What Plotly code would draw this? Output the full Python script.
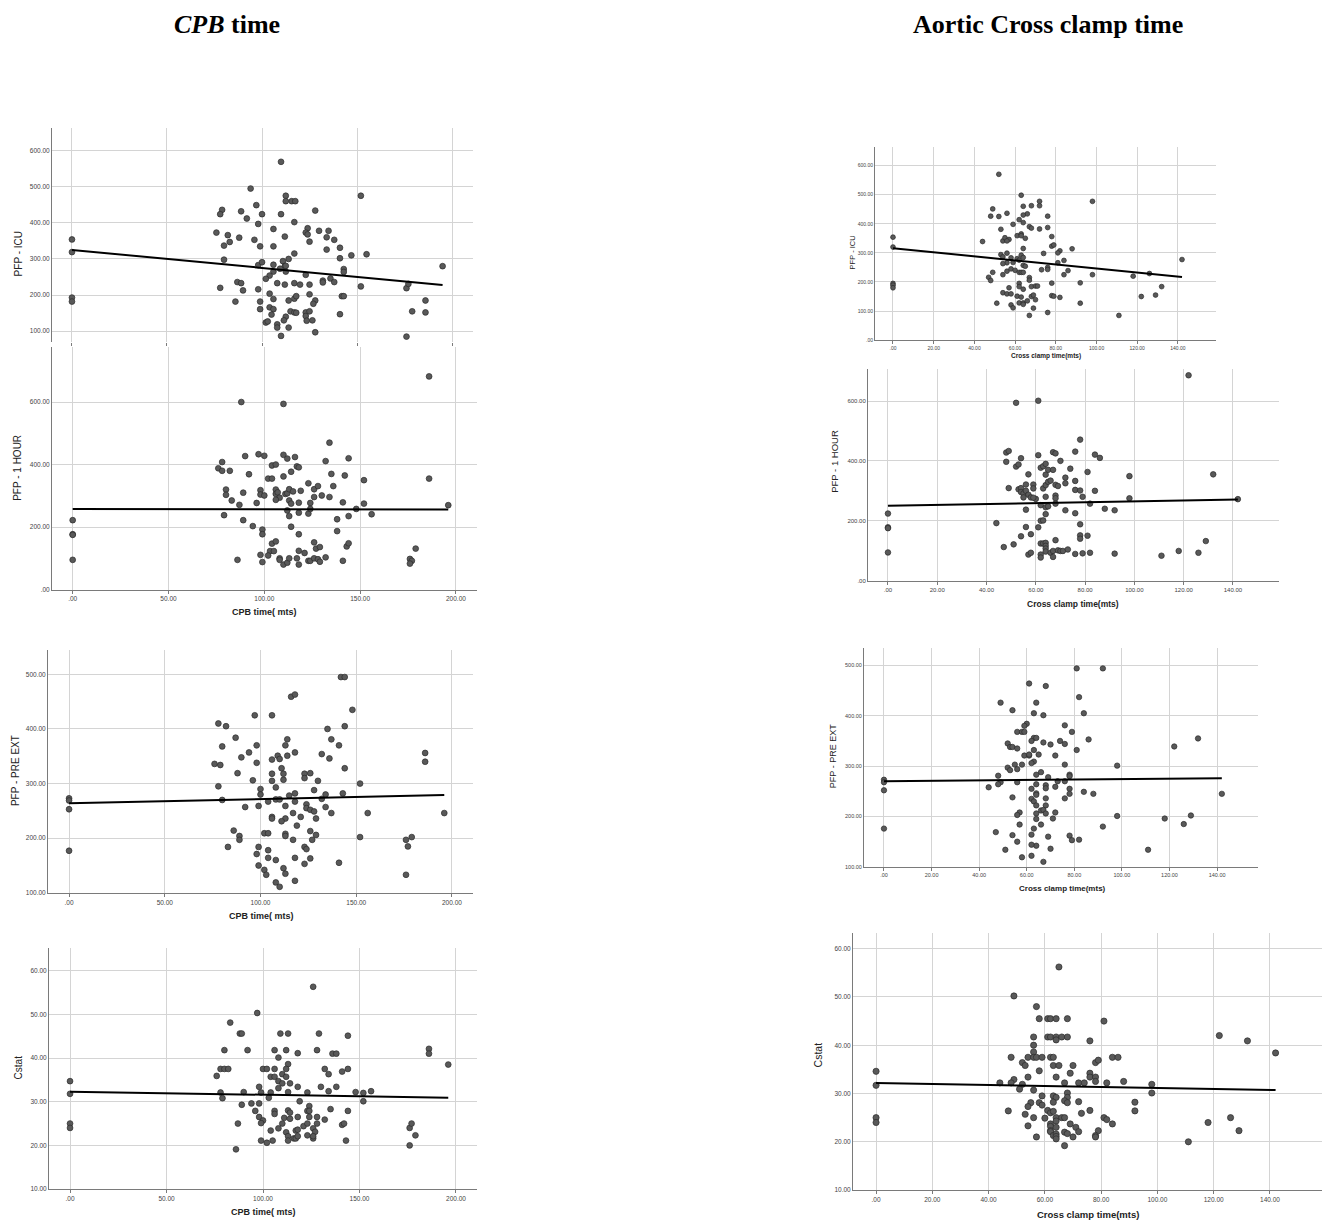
import plotly.graph_objects as go

W, H = 1336, 1226

# ---------------- DATA ----------------
# Left column: CPB time (mts) vs outcomes
cpb_icu_x = [0, 0, 0, 0, 110, 94, 112.5, 112.5, 115.6, 117.5,
             79, 78, 89, 97, 92, 100, 110, 128, 117, 98,
             76, 82, 88, 96, 106, 124, 123, 124, 130, 135,
             134, 138, 112, 80, 83, 99, 106, 125, 134, 141,
             117, 141, 147, 155, 152, 80, 98, 100, 106, 111,
             114, 112, 112.5, 109.5, 106, 112.5, 123, 104, 102, 143,
             143, 136, 132, 132, 138, 125, 120, 117, 112, 108,
             78, 87, 89, 90, 98, 104, 125, 152, 176, 177,
             195, 86, 99, 106, 114, 117, 118, 128, 127, 142,
             143, 99, 104, 106, 115, 117, 118, 123, 123, 125,
             141, 105, 112.5, 111.5, 123.5, 126.5, 102, 103, 108, 108,
             114, 128, 110, 176, 179, 186, 186]
cpb_icu_y = [354, 319, 193, 182, 569, 495, 475, 460, 460, 460,
             436, 424, 432, 449, 412, 424, 424, 434, 402, 397,
             373, 366, 359, 353, 383, 385, 373, 368, 378, 378,
             360, 353, 362, 337, 347, 335, 335, 348, 326, 331,
             315, 302, 310, 313, 475, 298, 283, 291, 284, 294,
             300, 280, 281, 273, 265, 265, 256, 254, 245, 272,
             264, 246, 240, 235, 236, 229, 229, 233, 229, 233,
             220, 236, 233, 213, 216, 204, 202, 224, 219, 231,
             280, 182, 182, 189, 185, 190, 197, 185, 176, 197,
             197, 161, 166, 161, 155, 152, 151, 152, 142, 155,
             147, 146, 140, 130, 129, 130, 124, 127, 119, 110,
             110, 97, 87, 85, 155, 185, 152]

cpb_hour_x = [0, 0, 0, 0, 186, 88, 110, 134, 76, 78,
              78, 82, 90, 97, 100, 110, 112, 116, 117, 118,
              104, 106, 110, 102, 104, 114, 92, 132, 144, 142,
              135, 136, 152, 80, 80, 89, 83, 87, 96, 98,
              98, 100, 106, 106, 107, 108, 106, 111, 112, 113,
              115, 113, 114, 119, 123, 126, 128, 126, 130, 134,
              118, 124, 141, 152, 148, 156, 112, 113, 118, 123,
              124, 144, 138, 79, 89, 94, 99, 99, 114, 118,
              138, 104, 106, 103, 105, 102, 98, 99, 108, 108,
              110, 112, 113, 117, 118, 118, 121, 123, 124, 126,
              127, 129, 126, 128, 129, 132, 141, 143, 144, 86,
              176, 177, 176, 179, 186, 196]
cpb_hour_y = [222, 177, 175, 95, 682, 600, 594, 470, 388, 408,
              380, 380, 427, 433, 428, 431, 419, 424, 394, 391,
              397, 400, 362, 355, 355, 377, 369, 411, 420, 365,
              370, 331, 350, 320, 303, 310, 285, 271, 277, 318,
              304, 301, 320, 306, 311, 294, 287, 306, 308, 321,
              314, 285, 275, 316, 340, 321, 331, 296, 301, 296,
              278, 277, 279, 275, 258, 241, 253, 235, 246, 243,
              258, 235, 225, 238, 222, 203, 192, 177, 201, 177,
              187, 147, 154, 123, 123, 109, 111, 88, 100, 95,
              80, 86, 100, 100, 124, 80, 117, 92, 92, 151,
              131, 136, 100, 97, 89, 103, 92, 138, 148, 95,
              98, 92, 83, 131, 355, 270]

cpb_pre_x = [0, 0, 0, 0, 142, 144, 116, 118, 148, 97,
             106, 78, 82, 135, 144, 87, 114, 137, 80, 98,
             113, 141, 94, 118, 90, 109, 114, 110, 106, 132,
             136, 76, 79, 98, 111, 144, 88, 106, 112, 123,
             126, 96, 106, 112, 123, 130, 78, 100, 152, 108,
             128, 100, 115, 118, 134, 143, 132, 80, 108, 110,
             104, 118, 99, 92, 113, 124, 124, 126, 128, 134,
             137, 156, 196, 106, 106, 113, 111, 117, 121, 129,
             119, 86, 89, 89, 102, 104, 113, 113, 117, 126,
             129, 127, 152, 83, 99, 123, 124, 176, 179, 177,
             186, 186, 104, 98, 104, 108, 118, 126, 99, 102,
             103, 112, 113, 123, 141, 176, 108, 110, 118]
cpb_pre_y = [273, 269, 253, 177, 495, 495, 459, 463, 435, 425,
             425, 410, 405, 400, 405, 384, 381, 381, 368, 370,
             370, 370, 357, 357, 348, 351, 351, 345, 344, 354,
             346, 336, 334, 338, 328, 328, 319, 318, 318, 318,
             319, 306, 305, 307, 310, 305, 295, 290, 300, 293,
             288, 280, 278, 282, 280, 282, 272, 270, 271, 271,
             267, 267, 259, 257, 259, 262, 255, 252, 249, 257,
             246, 246, 246, 239, 236, 236, 231, 246, 239, 236,
             223, 214, 204, 197, 209, 209, 208, 204, 197, 213,
             206, 197, 202, 184, 184, 184, 180, 197, 202, 185,
             356, 340, 178, 171, 164, 160, 164, 163, 150, 142,
             133, 145, 135, 153, 155, 133, 119, 111, 122]

cpb_cstat_x = [0, 0, 0, 0, 126, 97, 83, 88, 89, 109,
               113, 129, 144, 80, 92, 106, 112, 128, 118, 136,
               138, 186, 186, 108, 113, 196, 76, 78, 80, 82,
               100, 102, 106, 112, 132, 144, 110, 112, 104, 106,
               134, 141, 108, 110, 114, 98, 108, 118, 130, 138,
               134, 156, 78, 90, 99, 104, 113, 123, 148, 152,
               103, 79, 119, 152, 89, 94, 98, 124, 96, 106,
               106, 113, 114, 123, 124, 135, 144, 98, 111, 114,
               118, 124, 128, 132, 100, 99, 87, 110, 121, 123,
               128, 141, 142, 108, 126, 104, 112, 117, 127, 118,
               113, 116, 117, 118, 123, 126, 126, 99, 105, 113,
               102, 143, 86, 176, 177, 179, 176]
cpb_cstat_y = [34.7, 31.8, 25.0, 24.0, 56.3, 50.3, 48.1, 45.6, 45.6, 45.6,
               45.6, 45.6, 45.1, 41.8, 41.8, 41.8, 41.8, 41.8, 41.1, 41.0,
               41.0, 42.1, 41.0, 40.1, 38.6, 38.5, 35.9, 37.5, 37.5, 37.5,
               37.5, 37.5, 37.5, 37.5, 37.5, 37.5, 36.3, 35.7, 35.7, 35.7,
               36.3, 36.9, 34.7, 34.2, 34.2, 33.4, 33.1, 33.4, 33.4, 33.4,
               32.4, 32.4, 32.1, 32.2, 32.1, 32.1, 32.2, 32.1, 32.2, 32.0,
               30.9, 30.8, 30.1, 30.1, 29.3, 29.6, 29.6, 29.0, 27.9, 27.9,
               27.2, 28.0, 27.5, 27.9, 27.9, 28.3, 27.9, 26.5, 26.3, 26.1,
               26.5, 26.5, 26.5, 25.9, 25.7, 25.1, 25.0, 25.0, 24.4, 25.0,
               25.0, 24.7, 25.0, 23.9, 23.9, 23.4, 23.0, 23.4, 23.1, 23.6,
               22.1, 21.6, 21.6, 22.1, 22.3, 21.6, 22.1, 21.1, 21.1, 21.1,
               20.6, 21.1, 19.1, 24.0, 25.0, 22.3, 20.0]

# Right column: Cross clamp time (mts) vs outcomes
acc_icu_x = [0, 0, 0, 0, 0, 52, 63, 72, 72, 98,
             49, 48, 52, 56, 66, 64, 64, 68, 76, 62,
             64, 59, 53, 67, 68, 72, 76, 44, 54, 55,
             57, 56, 61, 63, 63, 65, 64, 78, 78, 79,
             88, 53, 54, 58, 56, 61, 62, 63, 64, 74,
             82, 81, 56, 54, 59, 64, 65, 81, 84, 76,
             76, 73, 86, 98, 47, 48, 49, 54, 56, 58,
             60, 62, 63, 64, 67, 67, 78, 62, 62, 64,
             57, 68, 70, 71, 84, 92, 54, 56, 58, 61,
             63, 68, 69, 78, 79, 82, 51, 58, 59, 62,
             64, 64, 66, 70, 69, 67, 76, 92, 111, 118,
             122, 126, 129, 132, 142]
acc_icu_y = [354, 320, 195, 189, 180, 570, 498, 477, 462, 477,
             451, 426, 425, 436, 434, 430, 460, 462, 426, 414,
             404, 398, 381, 390, 385, 382, 387, 339, 341, 352,
             346, 341, 359, 365, 359, 350, 315, 356, 323, 327,
             314, 294, 286, 283, 299, 280, 275, 292, 284, 298,
             307, 300, 266, 263, 267, 257, 254, 266, 274, 250,
             243, 242, 239, 225, 216, 205, 233, 225, 237, 245,
             240, 233, 233, 233, 215, 206, 196, 195, 184, 175,
             180, 184, 186, 186, 225, 197, 163, 159, 159, 151,
             148, 150, 155, 153, 151, 147, 127, 121, 111, 128,
             128, 123, 135, 139, 110, 85, 95, 127, 85, 220,
             150, 229, 155, 184, 277]

acc_hour_x = [0, 0, 0, 0, 122, 52, 61, 78, 48, 49,
              54, 61, 67, 68, 76, 84, 86, 48, 52, 53,
              70, 65, 62, 63, 64, 74, 64, 57, 67, 81,
              98, 132, 49, 53, 54, 56, 59, 59, 63, 64,
              65, 66, 68, 69, 72, 72, 76, 76, 78, 84,
              54, 55, 56, 57, 58, 55, 60, 59, 62, 64,
              65, 68, 68, 68, 64, 79, 82, 98, 88, 92,
              72, 76, 64, 56, 142, 44, 62, 63, 61, 56,
              58, 54, 51, 47, 62, 63, 64, 68, 64, 64,
              78, 78, 78, 81, 57, 58, 62, 62, 64, 66,
              67, 67, 69, 70, 71, 73, 76, 79, 82, 92,
              111, 118, 126, 129]
acc_hour_y = [224, 178, 175, 94, 686, 594, 601, 471, 428, 433,
              409, 419, 429, 425, 431, 421, 410, 397, 381, 388,
              400, 370, 377, 382, 390, 374, 354, 355, 370, 363,
              349, 355, 309, 305, 309, 321, 321, 308, 308, 319,
              330, 334, 320, 316, 344, 325, 333, 303, 301, 300,
              296, 291, 300, 287, 278, 278, 273, 277, 252, 245,
              248, 284, 275, 257, 280, 280, 257, 275, 240, 235,
              235, 225, 222, 237, 272, 192, 200, 201, 178, 179,
              155, 148, 121, 112, 124, 124, 126, 135, 116, 107,
              188, 151, 140, 150, 87, 93, 87, 77, 97, 93,
              99, 79, 101, 99, 99, 104, 89, 91, 93, 90,
              83, 99, 93, 132]

acc_pre_x = [0, 0, 0, 0, 81, 92, 61, 68, 49, 64,
             82, 54, 63, 67, 84, 60, 59, 56, 58, 59,
             76, 79, 63, 64, 62, 67, 70, 74, 76, 86,
             52, 53, 54, 56, 63, 59, 61, 61, 65, 72,
             81, 63, 62, 55, 58, 76, 98, 52, 53, 56,
             66, 64, 48, 78, 78, 69, 68, 68, 72, 76,
             73, 49, 48, 56, 64, 62, 78, 84, 88, 78,
             64, 64, 44, 54, 62, 63, 68, 76, 64, 68,
             66, 67, 57, 56, 64, 68, 72, 71, 64, 98,
             57, 66, 63, 47, 54, 62, 69, 78, 92, 56,
             64, 62, 79, 82, 51, 70, 58, 62, 67, 111,
             118, 122, 126, 129, 132, 142]
acc_pre_y = [273, 268, 252, 176, 494, 494, 464, 459, 426, 426,
             437, 411, 405, 401, 405, 384, 380, 368, 368, 368,
             381, 368, 356, 356, 350, 347, 343, 350, 344, 353,
             345, 338, 338, 335, 332, 321, 321, 323, 323, 321,
             332, 309, 306, 303, 303, 303, 301, 297, 292, 294,
             288, 283, 281, 283, 280, 278, 262, 256, 259, 270,
             270, 268, 264, 268, 264, 255, 255, 249, 245, 245,
             246, 243, 258, 238, 235, 230, 236, 236, 222, 222,
             212, 213, 208, 203, 206, 206, 208, 196, 195, 201,
             184, 184, 176, 169, 163, 164, 160, 162, 180, 150,
             142, 144, 153, 154, 134, 136, 119, 122, 110, 134,
             196, 339, 185, 202, 355, 245]

acc_cstat_x = [0, 0, 0, 0, 65, 49, 57, 58, 61, 62,
               64, 68, 81, 56, 61, 62, 64, 64, 66, 68,
               76, 122, 132, 142, 56, 56, 48, 54, 56, 57,
               59, 62, 63, 84, 86, 52, 53, 63, 65, 70,
               78, 79, 58, 69, 76, 54, 64, 76, 78, 49,
               44, 48, 52, 67, 72, 74, 78, 82, 88, 98,
               51, 56, 68, 98, 59, 63, 64, 68, 58, 55,
               63, 67, 68, 72, 92, 54, 59, 47, 61, 62,
               63, 76, 92, 53, 73, 56, 60, 64, 66, 67,
               81, 82, 64, 62, 69, 84, 54, 62, 64, 71,
               62, 62, 72, 79, 63, 64, 64, 67, 68, 57,
               70, 78, 78, 64, 67, 111, 118, 126, 129]
acc_cstat_y = [34.6, 31.7, 25.0, 24.0, 56.2, 50.2, 48.0, 45.5, 45.5, 45.5,
               45.5, 45.5, 45.0, 41.7, 41.7, 41.7, 41.7, 41.1, 41.7, 41.7,
               40.9, 42.0, 40.9, 38.4, 40.0, 38.6, 37.5, 37.5, 37.5, 37.5,
               37.5, 37.5, 37.5, 37.5, 37.5, 36.4, 35.8, 35.8, 35.8, 35.8,
               36.4, 36.9, 34.7, 34.2, 34.2, 33.4, 33.4, 33.4, 33.4, 32.9,
               32.2, 32.2, 31.9, 32.2, 32.2, 32.2, 32.5, 32.2, 32.5, 31.9,
               30.9, 30.7, 30.1, 30.1, 29.5, 29.5, 29.2, 29.2, 28.1, 28.1,
               28.2, 28.5, 28.1, 28.3, 28.2, 27.3, 27.6, 26.4, 26.5, 26.0,
               26.3, 26.5, 26.4, 25.7, 25.9, 25.0, 24.9, 25.0, 25.0, 25.0,
               25.0, 24.6, 24.3, 23.7, 23.7, 23.7, 23.3, 23.2, 23.0, 23.0,
               22.3, 22.1, 22.1, 22.3, 21.3, 21.6, 21.1, 22.0, 21.7, 21.0,
               21.0, 21.3, 21.0, 20.6, 19.2, 20.0, 24.0, 25.0, 22.3]

# Fit lines: value of the fitted line at the smallest and largest x of each panel
fit_cpb_icu = [325, 228]
fit_cpb_hour = [258, 256]
fit_cpb_pre = [264, 279]
fit_cpb_cstat = [32.3, 30.9]
fit_acc_icu = [316, 217]
fit_acc_hour = [250, 271]
fit_acc_pre = [270, 276]
fit_acc_cstat = [32.2, 30.7]

# Tick values
cpb_ticks = [0, 50, 100, 150, 200]
acc_ticks = [0, 20, 40, 60, 80, 100, 120, 140]
icu_ticks_left = [100, 200, 300, 400, 500, 600]
icu_ticks_right = [0, 100, 200, 300, 400, 500, 600]
hour_ticks = [0, 200, 400, 600]
pre_ticks = [100, 200, 300, 400, 500]
cstat_ticks = [10, 20, 30, 40, 50, 60]

# Titles
col_titles = ["<b><i>CPB</i> time</b>", "<b>Aortic Cross clamp time</b>"]
y_titles = ["PFP - ICU", "PFP - 1 HOUR", "PFP - PRE EXT", "Cstat"]
x_title_cpb = "CPB time( mts)"
x_title_acc = "Cross clamp time(mts)"


def fmt(v):
    s = f"{v:.2f}"
    return s[1:] if s.startswith("0") else s


# ---------------- LAYOUT (pixel boxes) ----------------
panels = [
    dict(x=cpb_icu_x, y=cpb_icu_y, fit=fit_cpb_icu, box=(52, 128, 473, 343),
         xr=(-10.5, 211), yr=(69.6, 663.5), xt=cpb_ticks, yt=icu_ticks_left,
         yti=y_titles[0], ytp=(18, 255), xti=None, xtp=None, tf=6.5, af=10, ms=5.8, xlab=False),
    dict(x=cpb_hour_x, y=cpb_hour_y, fit=fit_cpb_hour, box=(52, 348, 477, 591),
         xr=(-10.8, 211), yr=(0, 775.6), xt=cpb_ticks, yt=hour_ticks,
         yti=y_titles[1], ytp=(18, 469), xti=x_title_cpb, xtp=(264, 614), tf=6.5, af=10, ms=5.8, xlab=True),
    dict(x=cpb_pre_x, y=cpb_pre_y, fit=fit_cpb_pre, box=(48, 652, 473, 895),
         xr=(-11.0, 211), yr=(100, 543.8), xt=cpb_ticks, yt=pre_ticks,
         yti=y_titles[2], ytp=(15, 773), xti=x_title_cpb, xtp=(261, 918), tf=6.5, af=10, ms=5.8, xlab=True),
    dict(x=cpb_cstat_x, y=cpb_cstat_y, fit=fit_cpb_cstat, box=(49, 950, 477, 1192),
         xr=(-10.9, 210.9), yr=(10, 65.25), xt=cpb_ticks, yt=cstat_ticks,
         yti=y_titles[3], ytp=(18, 1070), xti=x_title_cpb, xtp=(263, 1215), tf=6.5, af=10, ms=5.8, xlab=True),
    dict(x=acc_icu_x, y=acc_icu_y, fit=fit_acc_icu, box=(875, 147, 1216, 341),
         xr=(-8.84, 158.7), yr=(0, 665), xt=acc_ticks, yt=icu_ticks_right,
         yti=y_titles[0], ytp=(852, 253), xti=x_title_acc, xtp=(1046, 357), tf=5, af=7.5, ms=4.8, xlab=True),
    dict(x=acc_hour_x, y=acc_hour_y, fit=fit_acc_hour, box=(868, 370, 1279, 582),
         xr=(-8.1, 158.7), yr=(0, 706.7), xt=acc_ticks, yt=hour_ticks,
         yti=y_titles[1], ytp=(835, 463), xti=x_title_acc, xtp=(1073, 605), tf=6, af=9.5, ms=5.6, xlab=True),
    dict(x=acc_pre_x, y=acc_pre_y, fit=fit_acc_pre, box=(864, 650, 1258, 869),
         xr=(-8.4, 157.2), yr=(100, 533.7), xt=acc_ticks, yt=pre_ticks,
         yti=y_titles[2], ytp=(833, 758), xti=x_title_acc, xtp=(1062, 891), tf=5.5, af=9, ms=5.4, xlab=True),
    dict(x=acc_cstat_x, y=acc_cstat_y, fit=fit_acc_cstat, box=(853, 935, 1322, 1193),
         xr=(-8.2, 158.5), yr=(10, 63.3), xt=acc_ticks, yt=cstat_ticks,
         yti=y_titles[3], ytp=(818, 1058), xti=x_title_acc, xtp=(1088, 1217), tf=6.5, af=10.5, ms=6.2, xlab=True),
]

fig = go.Figure()
layout = dict(width=W, height=H, margin=dict(l=0, r=0, t=0, b=0),
              paper_bgcolor="white", plot_bgcolor="white", showlegend=False)
annotations = []

GRID = "#d4d4d4"
AXIS = "#7a7a7a"

for i, p in enumerate(panels, start=1):
    xa = "x" if i == 1 else f"x{i}"
    ya = "y" if i == 1 else f"y{i}"
    l, t, r, b = p["box"]
    fig.add_trace(go.Scatter(
        x=p["x"], y=p["y"], mode="markers", xaxis=xa, yaxis=ya,
        marker=dict(size=p["ms"], color="#595959", line=dict(color="#2b2b2b", width=0.7)),
        hoverinfo="skip"))
    x0, x1 = min(p["x"]), max(p["x"])
    fig.add_trace(go.Scatter(
        x=[x0, x1], y=p["fit"], mode="lines", xaxis=xa, yaxis=ya,
        line=dict(color="black", width=2), hoverinfo="skip"))
    xkey = "xaxis" if i == 1 else f"xaxis{i}"
    ykey = "yaxis" if i == 1 else f"yaxis{i}"
    layout[xkey] = dict(
        domain=[l / W, r / W], anchor=ya, range=list(p["xr"]),
        tickvals=p["xt"], ticktext=[fmt(v) for v in p["xt"]],
        showticklabels=p["xlab"], tickfont=dict(family="Arial", size=p["tf"], color="#444"),
        showgrid=True, gridcolor=GRID, gridwidth=1, zeroline=False,
        showline=p["xlab"], linecolor=AXIS, linewidth=1,
        ticks="outside", ticklen=3, tickcolor=AXIS, fixedrange=True)
    layout[ykey] = dict(
        domain=[1 - b / H, 1 - t / H], anchor=xa, range=list(p["yr"]),
        tickvals=p["yt"], ticktext=[fmt(v) for v in p["yt"]],
        tickfont=dict(family="Arial", size=p["tf"], color="#444"),
        showgrid=True, gridcolor=GRID, gridwidth=1, zeroline=False,
        showline=True, linecolor=AXIS, linewidth=1, ticks="", fixedrange=True)
    annotations.append(dict(
        text=p["yti"], x=p["ytp"][0] / W, y=1 - p["ytp"][1] / H, xref="paper", yref="paper",
        textangle=-90, showarrow=False, xanchor="center", yanchor="middle",
        font=dict(family="Arial", size=p["af"], color="#222")))
    if p["xti"]:
        annotations.append(dict(
            text="<b>" + p["xti"] + "</b>", x=p["xtp"][0] / W, y=1 - p["xtp"][1] / H,
            xref="paper", yref="paper", showarrow=False, xanchor="center", yanchor="middle",
            font=dict(family="Arial", size=p["af"] - 1, color="#222")))

annotations.append(dict(text=col_titles[0], x=227 / W, y=1 - 25 / H, xref="paper", yref="paper",
                        showarrow=False, xanchor="center", yanchor="middle",
                        font=dict(family="Liberation Serif", size=26, color="black")))
annotations.append(dict(text=col_titles[1], x=1048 / W, y=1 - 25 / H, xref="paper", yref="paper",
                        showarrow=False, xanchor="center", yanchor="middle",
                        font=dict(family="Liberation Serif", size=26, color="black")))

layout["annotations"] = annotations
fig.update_layout(**layout)
fig.write_html("out.html", config={"displayModeBar": False},
               post_script="document.body.style.margin='0px';document.body.style.overflow='hidden';")
